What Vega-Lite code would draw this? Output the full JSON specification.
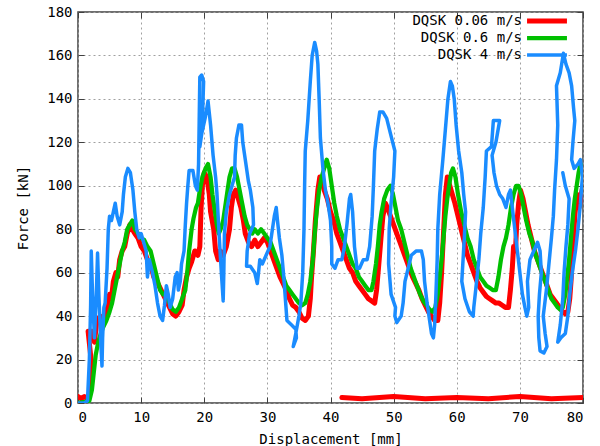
{
"$schema":"https://vega.github.io/schema/vega-lite/v6.json",
"width":505,"height":391,
"autosize":{"type":"none"},
"padding":{"left":78,"top":12,"right":17,"bottom":43},
"background":"white",
"config":{"view":{"stroke":"#404040","strokeWidth":1.5},"font":"DejaVu Sans Mono"},
"data":{"values":[
{"s":"a","x":0,"y":3},{"s":"a","x":0.5,"y":2},{"s":"a","x":1,"y":3},{"s":"a","x":1.5,"y":2},{"s":"a","x":1.8,"y":4},{"s":"a","x":2,"y":10},{"s":"a","x":2.2,"y":14},{"s":"a","x":2.0,"y":22},{"s":"a","x":1.6,"y":33},{"s":"a","x":2.3,"y":33},{"s":"a","x":2.6,"y":28},{"s":"a","x":3,"y":38},{"s":"a","x":3.5,"y":40},{"s":"a","x":4,"y":36},{"s":"a","x":4.5,"y":42},{"s":"a","x":5,"y":50},{"s":"a","x":5.3,"y":48},{"s":"a","x":5.6,"y":56},{"s":"a","x":6,"y":60},{"s":"a","x":6.3,"y":58},{"s":"a","x":6.6,"y":66},{"s":"a","x":7,"y":70},{"s":"a","x":7.4,"y":72},{"s":"a","x":7.8,"y":78},{"s":"a","x":8.2,"y":82},{"s":"a","x":8.6,"y":80},{"s":"a","x":9,"y":78},{"s":"a","x":9.5,"y":76},{"s":"a","x":10,"y":72},{"s":"a","x":10.5,"y":70},{"s":"a","x":11,"y":66},{"s":"a","x":11.5,"y":64},{"s":"a","x":12,"y":58},{"s":"a","x":12.5,"y":56},{"s":"a","x":13,"y":53},{"s":"a","x":13.5,"y":50},{"s":"a","x":14,"y":47},{"s":"a","x":14.5,"y":44},{"s":"a","x":15,"y":41},{"s":"a","x":15.5,"y":40},{"s":"a","x":16,"y":42},{"s":"a","x":16.5,"y":45},{"s":"a","x":16.8,"y":52},{"s":"a","x":17.2,"y":58},{"s":"a","x":17.6,"y":62},{"s":"a","x":18,"y":65},{"s":"a","x":18.5,"y":70},{"s":"a","x":19,"y":68},{"s":"a","x":19.3,"y":72},{"s":"a","x":19.5,"y":90},{"s":"a","x":19.7,"y":100},{"s":"a","x":20,"y":106},{"s":"a","x":20.4,"y":104},{"s":"a","x":20.8,"y":96},{"s":"a","x":21,"y":88},{"s":"a","x":21.5,"y":80},{"s":"a","x":21.8,"y":70},{"s":"a","x":22.2,"y":66},{"s":"a","x":22.5,"y":70},{"s":"a","x":23,"y":68},{"s":"a","x":23.5,"y":72},{"s":"a","x":24,"y":80},{"s":"a","x":24.3,"y":90},{"s":"a","x":24.6,"y":96},{"s":"a","x":25,"y":98},{"s":"a","x":25.4,"y":94},{"s":"a","x":25.8,"y":90},{"s":"a","x":26.2,"y":84},{"s":"a","x":26.5,"y":78},{"s":"a","x":27,"y":74},{"s":"a","x":27.5,"y":72},{"s":"a","x":28,"y":75},{"s":"a","x":28.5,"y":72},{"s":"a","x":29,"y":74},{"s":"a","x":29.5,"y":76},{"s":"a","x":30,"y":74},{"s":"a","x":30.5,"y":70},{"s":"a","x":31,"y":66},{"s":"a","x":31.5,"y":62},{"s":"a","x":32,"y":58},{"s":"a","x":32.5,"y":55},{"s":"a","x":33,"y":52},{"s":"a","x":33.5,"y":48},{"s":"a","x":34,"y":45},{"s":"a","x":34.5,"y":44},{"s":"a","x":35,"y":42},{"s":"a","x":35.5,"y":39},{"s":"a","x":36,"y":38},{"s":"a","x":36.5,"y":40},{"s":"a","x":36.8,"y":48},{"s":"a","x":37,"y":58},{"s":"a","x":37.3,"y":70},{"s":"a","x":37.6,"y":84},{"s":"a","x":38,"y":98},{"s":"a","x":38.3,"y":104},{"s":"a","x":38.7,"y":102},{"s":"a","x":39,"y":98},{"s":"a","x":39.5,"y":94},{"s":"a","x":40,"y":88},{"s":"a","x":40.5,"y":84},{"s":"a","x":41,"y":78},{"s":"a","x":41.5,"y":74},{"s":"a","x":42,"y":70},{"s":"a","x":42.5,"y":66},{"s":"a","x":43,"y":62},{"s":"a","x":43.5,"y":60},{"s":"a","x":44,"y":56},{"s":"a","x":44.5,"y":54},{"s":"a","x":45,"y":52},{"s":"a","x":45.5,"y":50},{"s":"a","x":46,"y":48},{"s":"a","x":46.5,"y":47},{"s":"a","x":47,"y":46},{"s":"a","x":47.3,"y":52},{"s":"a","x":47.6,"y":62},{"s":"a","x":48,"y":76},{"s":"a","x":48.3,"y":86},{"s":"a","x":48.7,"y":92},{"s":"a","x":49,"y":90},{"s":"a","x":49.5,"y":86},{"s":"a","x":50,"y":82},{"s":"a","x":50.5,"y":78},{"s":"a","x":51,"y":74},{"s":"a","x":51.5,"y":70},{"s":"a","x":52,"y":66},{"s":"a","x":52.5,"y":62},{"s":"a","x":53,"y":58},{"s":"a","x":53.5,"y":55},{"s":"a","x":54,"y":52},{"s":"a","x":54.5,"y":48},{"s":"a","x":55,"y":45},{"s":"a","x":55.5,"y":42},{"s":"a","x":56,"y":40},{"s":"a","x":56.5,"y":38},{"s":"a","x":57,"y":38},{"s":"a","x":57.3,"y":46},{"s":"a","x":57.6,"y":60},{"s":"a","x":57.9,"y":78},{"s":"a","x":58.2,"y":96},{"s":"a","x":58.5,"y":104},{"s":"a","x":58.9,"y":100},{"s":"a","x":59.3,"y":96},{"s":"a","x":59.7,"y":92},{"s":"a","x":60.2,"y":86},{"s":"a","x":60.7,"y":80},{"s":"a","x":61.2,"y":74},{"s":"a","x":61.7,"y":68},{"s":"a","x":62.2,"y":64},{"s":"a","x":62.7,"y":60},{"s":"a","x":63.2,"y":56},{"s":"a","x":63.7,"y":53},{"s":"a","x":64.2,"y":51},{"s":"a","x":64.7,"y":49},{"s":"a","x":65.2,"y":48},{"s":"a","x":65.7,"y":47},{"s":"a","x":66.2,"y":46},{"s":"a","x":66.7,"y":46},{"s":"a","x":67.2,"y":45},{"s":"a","x":67.7,"y":44},{"s":"a","x":68.2,"y":44},{"s":"a","x":68.5,"y":52},{"s":"a","x":68.8,"y":62},{"s":"a","x":69,"y":72},{"s":"a","x":69.3,"y":70},{"s":"a","x":69.5,"y":82},{"s":"a","x":69.8,"y":92},{"s":"a","x":70.1,"y":98},{"s":"a","x":70.5,"y":94},{"s":"a","x":70.9,"y":88},{"s":"a","x":71.3,"y":82},{"s":"a","x":71.8,"y":76},{"s":"a","x":72.3,"y":70},{"s":"a","x":72.8,"y":66},{"s":"a","x":73.3,"y":62},{"s":"a","x":73.8,"y":58},{"s":"a","x":74.3,"y":54},{"s":"a","x":74.8,"y":50},{"s":"a","x":75.3,"y":48},{"s":"a","x":75.8,"y":46},{"s":"a","x":76.3,"y":44},{"s":"a","x":76.8,"y":42},{"s":"a","x":77.2,"y":41},{"s":"a","x":77.6,"y":42},{"s":"a","x":77.9,"y":48},{"s":"a","x":78.1,"y":56},{"s":"a","x":78.3,"y":66},{"s":"a","x":78.5,"y":76},{"s":"a","x":78.7,"y":86},{"s":"a","x":78.9,"y":92},{"s":"a","x":79.1,"y":96},{"s":"a","x":79.4,"y":90},{"s":"a","x":79.7,"y":96},{"s":"a","x":80,"y":100},
{"s":"a","k":"r","x":80,"y":2.5},{"s":"a","k":"r","x":75,"y":2},{"s":"a","k":"r","x":70,"y":3},{"s":"a","k":"r","x":65,"y":2},{"s":"a","k":"r","x":60,"y":2.5},{"s":"a","k":"r","x":55,"y":2},{"s":"a","k":"r","x":50,"y":3},{"s":"a","k":"r","x":45,"y":2},{"s":"a","k":"r","x":41.8,"y":2.5},
{"s":"b","x":0,"y":0},{"s":"b","x":1,"y":0.5},{"s":"b","x":1.8,"y":1},{"s":"b","x":2.2,"y":6},{"s":"b","x":2.5,"y":14},{"s":"b","x":2.8,"y":22},{"s":"b","x":3.2,"y":28},{"s":"b","x":3.6,"y":32},{"s":"b","x":4,"y":35},{"s":"b","x":4.5,"y":38},{"s":"b","x":5,"y":42},{"s":"b","x":5.4,"y":46},{"s":"b","x":5.8,"y":52},{"s":"b","x":6.2,"y":58},{"s":"b","x":6.6,"y":64},{"s":"b","x":7,"y":70},{"s":"b","x":7.4,"y":74},{"s":"b","x":7.8,"y":80},{"s":"b","x":8.2,"y":82},{"s":"b","x":8.6,"y":84},{"s":"b","x":9,"y":80},{"s":"b","x":9.5,"y":78},{"s":"b","x":10,"y":76},{"s":"b","x":10.5,"y":75},{"s":"b","x":11,"y":72},{"s":"b","x":11.5,"y":70},{"s":"b","x":12,"y":64},{"s":"b","x":12.5,"y":58},{"s":"b","x":13,"y":52},{"s":"b","x":13.5,"y":50},{"s":"b","x":14,"y":50},{"s":"b","x":14.5,"y":46},{"s":"b","x":15,"y":43},{"s":"b","x":15.5,"y":42},{"s":"b","x":16,"y":44},{"s":"b","x":16.5,"y":48},{"s":"b","x":17,"y":52},{"s":"b","x":17.3,"y":60},{"s":"b","x":17.6,"y":70},{"s":"b","x":18,"y":80},{"s":"b","x":18.3,"y":85},{"s":"b","x":18.7,"y":90},{"s":"b","x":19,"y":92},{"s":"b","x":19.3,"y":98},{"s":"b","x":19.7,"y":104},{"s":"b","x":20.2,"y":108},{"s":"b","x":20.6,"y":110},{"s":"b","x":21,"y":104},{"s":"b","x":21.3,"y":96},{"s":"b","x":21.7,"y":88},{"s":"b","x":22,"y":82},{"s":"b","x":22.3,"y":78},{"s":"b","x":22.6,"y":80},{"s":"b","x":23,"y":84},{"s":"b","x":23.3,"y":90},{"s":"b","x":23.7,"y":98},{"s":"b","x":24,"y":104},{"s":"b","x":24.4,"y":108},{"s":"b","x":24.8,"y":108},{"s":"b","x":25.2,"y":104},{"s":"b","x":25.6,"y":98},{"s":"b","x":26,"y":92},{"s":"b","x":26.4,"y":86},{"s":"b","x":26.8,"y":82},{"s":"b","x":27.2,"y":80},{"s":"b","x":27.6,"y":78},{"s":"b","x":28,"y":80},{"s":"b","x":28.5,"y":78},{"s":"b","x":29,"y":80},{"s":"b","x":29.5,"y":78},{"s":"b","x":30,"y":76},{"s":"b","x":30.5,"y":74},{"s":"b","x":31,"y":70},{"s":"b","x":31.5,"y":66},{"s":"b","x":32,"y":62},{"s":"b","x":32.5,"y":58},{"s":"b","x":33,"y":54},{"s":"b","x":33.5,"y":52},{"s":"b","x":34,"y":50},{"s":"b","x":34.5,"y":48},{"s":"b","x":35,"y":46},{"s":"b","x":35.5,"y":45},{"s":"b","x":36,"y":46},{"s":"b","x":36.4,"y":50},{"s":"b","x":36.8,"y":56},{"s":"b","x":37.2,"y":66},{"s":"b","x":37.5,"y":78},{"s":"b","x":37.8,"y":88},{"s":"b","x":38.2,"y":98},{"s":"b","x":38.6,"y":104},{"s":"b","x":39,"y":108},{"s":"b","x":39.4,"y":112},{"s":"b","x":39.8,"y":108},{"s":"b","x":40.2,"y":100},{"s":"b","x":40.6,"y":92},{"s":"b","x":41,"y":86},{"s":"b","x":41.5,"y":80},{"s":"b","x":42,"y":76},{"s":"b","x":42.5,"y":72},{"s":"b","x":43,"y":68},{"s":"b","x":43.5,"y":64},{"s":"b","x":44,"y":62},{"s":"b","x":44.5,"y":58},{"s":"b","x":45,"y":56},{"s":"b","x":45.5,"y":54},{"s":"b","x":46,"y":52},{"s":"b","x":46.5,"y":52},{"s":"b","x":46.8,"y":56},{"s":"b","x":47.2,"y":64},{"s":"b","x":47.5,"y":72},{"s":"b","x":47.8,"y":82},{"s":"b","x":48.1,"y":88},{"s":"b","x":48.5,"y":94},{"s":"b","x":49,"y":98},{"s":"b","x":49.5,"y":100},{"s":"b","x":49.9,"y":96},{"s":"b","x":50.3,"y":90},{"s":"b","x":50.7,"y":84},{"s":"b","x":51.2,"y":80},{"s":"b","x":51.7,"y":74},{"s":"b","x":52.2,"y":68},{"s":"b","x":52.7,"y":62},{"s":"b","x":53.2,"y":58},{"s":"b","x":53.7,"y":54},{"s":"b","x":54.2,"y":50},{"s":"b","x":54.7,"y":47},{"s":"b","x":55.2,"y":45},{"s":"b","x":55.7,"y":43},{"s":"b","x":56.2,"y":42},{"s":"b","x":56.6,"y":44},{"s":"b","x":57,"y":50},{"s":"b","x":57.3,"y":58},{"s":"b","x":57.6,"y":66},{"s":"b","x":57.9,"y":76},{"s":"b","x":58.2,"y":86},{"s":"b","x":58.5,"y":94},{"s":"b","x":58.8,"y":100},{"s":"b","x":59.1,"y":106},{"s":"b","x":59.4,"y":108},{"s":"b","x":59.8,"y":104},{"s":"b","x":60.2,"y":96},{"s":"b","x":60.7,"y":88},{"s":"b","x":61.2,"y":82},{"s":"b","x":61.7,"y":76},{"s":"b","x":62.2,"y":72},{"s":"b","x":62.7,"y":66},{"s":"b","x":63.2,"y":62},{"s":"b","x":63.7,"y":58},{"s":"b","x":64.2,"y":56},{"s":"b","x":64.7,"y":54},{"s":"b","x":65.2,"y":53},{"s":"b","x":65.7,"y":52},{"s":"b","x":66.2,"y":52},{"s":"b","x":66.6,"y":58},{"s":"b","x":67,"y":66},{"s":"b","x":67.4,"y":72},{"s":"b","x":67.8,"y":76},{"s":"b","x":68.2,"y":82},{"s":"b","x":68.6,"y":90},{"s":"b","x":69,"y":96},{"s":"b","x":69.4,"y":100},{"s":"b","x":69.8,"y":100},{"s":"b","x":70.2,"y":96},{"s":"b","x":70.6,"y":90},{"s":"b","x":71,"y":84},{"s":"b","x":71.5,"y":78},{"s":"b","x":72,"y":74},{"s":"b","x":72.5,"y":68},{"s":"b","x":73,"y":64},{"s":"b","x":73.5,"y":60},{"s":"b","x":74,"y":56},{"s":"b","x":74.5,"y":52},{"s":"b","x":75,"y":48},{"s":"b","x":75.5,"y":46},{"s":"b","x":76,"y":44},{"s":"b","x":76.4,"y":43},{"s":"b","x":76.8,"y":44},{"s":"b","x":77.2,"y":50},{"s":"b","x":77.5,"y":58},{"s":"b","x":77.8,"y":66},{"s":"b","x":78.1,"y":76},{"s":"b","x":78.4,"y":86},{"s":"b","x":78.7,"y":94},{"s":"b","x":79,"y":100},{"s":"b","x":79.3,"y":106},{"s":"b","x":79.6,"y":110},{"s":"b","x":80,"y":108},
{"s":"c","x":0,"y":0},{"s":"c","x":1,"y":0},{"s":"c","x":1.5,"y":1},{"s":"c","x":1.8,"y":20},{"s":"c","x":2,"y":45},{"s":"c","x":2.1,"y":70},{"s":"c","x":2.3,"y":50},{"s":"c","x":2.6,"y":30},{"s":"c","x":2.9,"y":50},{"s":"c","x":3.1,"y":69},{"s":"c","x":3.3,"y":50},{"s":"c","x":3.6,"y":28},{"s":"c","x":3.8,"y":17},{"s":"c","x":3.9,"y":30},{"s":"c","x":4.1,"y":44},{"s":"c","x":4.3,"y":46},{"s":"c","x":4.6,"y":62},{"s":"c","x":4.8,"y":80},{"s":"c","x":5,"y":86},{"s":"c","x":5.3,"y":84},{"s":"c","x":5.6,"y":88},{"s":"c","x":5.9,"y":92},{"s":"c","x":6.2,"y":86},{"s":"c","x":6.6,"y":82},{"s":"c","x":7,"y":88},{"s":"c","x":7.2,"y":96},{"s":"c","x":7.5,"y":104},{"s":"c","x":7.9,"y":108},{"s":"c","x":8.3,"y":106},{"s":"c","x":8.7,"y":98},{"s":"c","x":9,"y":88},{"s":"c","x":9.3,"y":80},{"s":"c","x":9.7,"y":76},{"s":"c","x":10,"y":78},{"s":"c","x":10.4,"y":74},{"s":"c","x":10.8,"y":70},{"s":"c","x":11,"y":58},{"s":"c","x":11.3,"y":66},{"s":"c","x":11.8,"y":60},{"s":"c","x":12.2,"y":54},{"s":"c","x":12.6,"y":46},{"s":"c","x":13,"y":40},{"s":"c","x":13.4,"y":38},{"s":"c","x":13.7,"y":45},{"s":"c","x":14,"y":54},{"s":"c","x":14.3,"y":50},{"s":"c","x":14.6,"y":44},{"s":"c","x":15,"y":48},{"s":"c","x":15.4,"y":58},{"s":"c","x":15.7,"y":60},{"s":"c","x":15.9,"y":52},{"s":"c","x":16.2,"y":56},{"s":"c","x":16.4,"y":64},{"s":"c","x":16.8,"y":70},{"s":"c","x":17,"y":82},{"s":"c","x":17.2,"y":92},{"s":"c","x":17.4,"y":100},{"s":"c","x":17.6,"y":107},{"s":"c","x":18.2,"y":107},{"s":"c","x":18.6,"y":100},{"s":"c","x":18.9,"y":98},{"s":"c","x":19.1,"y":110},{"s":"c","x":19.2,"y":130},{"s":"c","x":19.3,"y":150},{"s":"c","x":19.6,"y":151},{"s":"c","x":19.9,"y":148},{"s":"c","x":19.7,"y":130},{"s":"c","x":19.3,"y":118},{"s":"c","x":19.6,"y":124},{"s":"c","x":20.2,"y":132},{"s":"c","x":20.6,"y":139},{"s":"c","x":21,"y":128},{"s":"c","x":21.4,"y":114},{"s":"c","x":21.8,"y":104},{"s":"c","x":22,"y":97},{"s":"c","x":22.2,"y":86},{"s":"c","x":22.5,"y":70},{"s":"c","x":22.8,"y":56},{"s":"c","x":23,"y":47},{"s":"c","x":23.1,"y":60},{"s":"c","x":23.2,"y":78},{"s":"c","x":23.5,"y":88},{"s":"c","x":24,"y":96},{"s":"c","x":24.4,"y":100},{"s":"c","x":24.8,"y":104},{"s":"c","x":24.9,"y":114},{"s":"c","x":25.1,"y":122},{"s":"c","x":25.5,"y":128},{"s":"c","x":25.9,"y":128},{"s":"c","x":26.1,"y":120},{"s":"c","x":26.6,"y":110},{"s":"c","x":27,"y":102},{"s":"c","x":27.3,"y":98},{"s":"c","x":27.7,"y":90},{"s":"c","x":27.8,"y":82},{"s":"c","x":27.2,"y":78},{"s":"c","x":26.8,"y":70},{"s":"c","x":26.7,"y":63},{"s":"c","x":27.3,"y":63},{"s":"c","x":28,"y":60},{"s":"c","x":28.4,"y":55},{"s":"c","x":28.6,"y":60},{"s":"c","x":28.8,"y":66},{"s":"c","x":29.2,"y":64},{"s":"c","x":29.8,"y":68},{"s":"c","x":30.4,"y":72},{"s":"c","x":30.8,"y":80},{"s":"c","x":31.1,"y":86},{"s":"c","x":31.4,"y":90},{"s":"c","x":31.6,"y":84},{"s":"c","x":31.9,"y":76},{"s":"c","x":32.3,"y":68},{"s":"c","x":32.6,"y":58},{"s":"c","x":32.9,"y":46},{"s":"c","x":33.1,"y":38},{"s":"c","x":33.8,"y":36},{"s":"c","x":34.5,"y":34},{"s":"c","x":34.6,"y":30},{"s":"c","x":34.1,"y":26},{"s":"c","x":34.5,"y":32},{"s":"c","x":35,"y":40},{"s":"c","x":35.3,"y":46},{"s":"c","x":35.6,"y":60},{"s":"c","x":35.8,"y":80},{"s":"c","x":35.9,"y":100},{"s":"c","x":36,"y":116},{"s":"c","x":36.4,"y":130},{"s":"c","x":36.8,"y":148},{"s":"c","x":37.1,"y":160},{"s":"c","x":37.5,"y":166},{"s":"c","x":37.8,"y":162},{"s":"c","x":38,"y":156},{"s":"c","x":38.2,"y":140},{"s":"c","x":38.4,"y":122},{"s":"c","x":38.8,"y":108},{"s":"c","x":39.2,"y":98},{"s":"c","x":39.6,"y":92},{"s":"c","x":40,"y":84},{"s":"c","x":40.2,"y":72},{"s":"c","x":40.2,"y":64},{"s":"c","x":40.7,"y":62},{"s":"c","x":41.2,"y":66},{"s":"c","x":41.8,"y":66},{"s":"c","x":42.2,"y":72},{"s":"c","x":42.6,"y":82},{"s":"c","x":43,"y":94},{"s":"c","x":43.2,"y":96},{"s":"c","x":43.5,"y":88},{"s":"c","x":43.8,"y":72},{"s":"c","x":44.2,"y":62},{"s":"c","x":44.6,"y":62},{"s":"c","x":45.2,"y":66},{"s":"c","x":45.8,"y":66},{"s":"c","x":46.2,"y":72},{"s":"c","x":46.6,"y":86},{"s":"c","x":46.8,"y":100},{"s":"c","x":47,"y":116},{"s":"c","x":47.4,"y":126},{"s":"c","x":47.8,"y":134},{"s":"c","x":48.3,"y":134},{"s":"c","x":48.9,"y":131},{"s":"c","x":49.5,"y":124},{"s":"c","x":50.2,"y":116},{"s":"c","x":50,"y":104},{"s":"c","x":49.6,"y":92},{"s":"c","x":49.3,"y":80},{"s":"c","x":49.2,"y":64},{"s":"c","x":49.6,"y":50},{"s":"c","x":50.3,"y":44},{"s":"c","x":50.2,"y":40},{"s":"c","x":50.5,"y":37},{"s":"c","x":51.2,"y":40},{"s":"c","x":51.5,"y":46},{"s":"c","x":51.8,"y":56},{"s":"c","x":52.3,"y":62},{"s":"c","x":52.8,"y":68},{"s":"c","x":53.6,"y":70},{"s":"c","x":54.4,"y":70},{"s":"c","x":54.7,"y":66},{"s":"c","x":54.9,"y":56},{"s":"c","x":55.3,"y":46},{"s":"c","x":55.7,"y":38},{"s":"c","x":56,"y":32},{"s":"c","x":56.3,"y":30},{"s":"c","x":56.5,"y":36},{"s":"c","x":56.7,"y":50},{"s":"c","x":56.9,"y":66},{"s":"c","x":57,"y":80},{"s":"c","x":57.3,"y":96},{"s":"c","x":57.8,"y":112},{"s":"c","x":58.2,"y":126},{"s":"c","x":58.6,"y":140},{"s":"c","x":59,"y":148},{"s":"c","x":59.3,"y":146},{"s":"c","x":59.6,"y":140},{"s":"c","x":59.9,"y":128},{"s":"c","x":60.3,"y":116},{"s":"c","x":60.8,"y":106},{"s":"c","x":61.1,"y":96},{"s":"c","x":61.4,"y":88},{"s":"c","x":61.2,"y":76},{"s":"c","x":61,"y":66},{"s":"c","x":60.8,"y":56},{"s":"c","x":61.3,"y":48},{"s":"c","x":62,"y":42},{"s":"c","x":62.6,"y":40},{"s":"c","x":62.7,"y":44},{"s":"c","x":63,"y":52},{"s":"c","x":63.5,"y":66},{"s":"c","x":63.8,"y":78},{"s":"c","x":64.2,"y":90},{"s":"c","x":64.5,"y":104},{"s":"c","x":64.7,"y":116},{"s":"c","x":65.5,"y":118},{"s":"c","x":65.8,"y":130},{"s":"c","x":66.8,"y":130},{"s":"c","x":66.2,"y":120},{"s":"c","x":65.6,"y":114},{"s":"c","x":65.9,"y":106},{"s":"c","x":66.3,"y":100},{"s":"c","x":66.8,"y":96},{"s":"c","x":67.3,"y":94},{"s":"c","x":67.8,"y":90},{"s":"c","x":68.2,"y":96},{"s":"c","x":68.5,"y":98},{"s":"c","x":68.8,"y":90},{"s":"c","x":69.2,"y":80},{"s":"c","x":69.6,"y":70},{"s":"c","x":70,"y":60},{"s":"c","x":70.4,"y":50},{"s":"c","x":70.8,"y":44},{"s":"c","x":71.1,"y":40},{"s":"c","x":71.4,"y":44},{"s":"c","x":71.2,"y":56},{"s":"c","x":71.6,"y":66},{"s":"c","x":72.2,"y":70},{"s":"c","x":72.8,"y":74},{"s":"c","x":73.2,"y":70},{"s":"c","x":73.4,"y":60},{"s":"c","x":73.1,"y":50},{"s":"c","x":72.9,"y":40},{"s":"c","x":73,"y":30},{"s":"c","x":73.2,"y":24},{"s":"c","x":73.8,"y":23},{"s":"c","x":74.3,"y":26},{"s":"c","x":74,"y":32},{"s":"c","x":73.7,"y":40},{"s":"c","x":74.2,"y":52},{"s":"c","x":74.6,"y":64},{"s":"c","x":75,"y":76},{"s":"c","x":75.3,"y":86},{"s":"c","x":75.5,"y":98},{"s":"c","x":75.8,"y":112},{"s":"c","x":76,"y":128},{"s":"c","x":75.8,"y":146},{"s":"c","x":76.4,"y":152},{"s":"c","x":76.9,"y":161},{"s":"c","x":77.3,"y":156},{"s":"c","x":77.8,"y":152},{"s":"c","x":78.2,"y":146},{"s":"c","x":78.5,"y":136},{"s":"c","x":78.7,"y":130},{"s":"c","x":78.4,"y":120},{"s":"c","x":78.2,"y":112},{"s":"c","x":78.6,"y":108},{"s":"c","x":79.2,"y":110},{"s":"c","x":79.6,"y":112},{"s":"c","x":79.9,"y":104},{"s":"c","x":79.6,"y":92},{"s":"c","x":79.2,"y":80},{"s":"c","x":78.8,"y":70},{"s":"c","x":78.3,"y":60},{"s":"c","x":77.9,"y":50},{"s":"c","x":77.6,"y":40},{"s":"c","x":77.2,"y":32},{"s":"c","x":76.5,"y":30},{"s":"c","x":76,"y":28},{"s":"c","x":76.4,"y":36},{"s":"c","x":76.8,"y":48},{"s":"c","x":77,"y":60},{"s":"c","x":77.3,"y":72},{"s":"c","x":77.6,"y":82},{"s":"c","x":77.8,"y":94},{"s":"c","x":77.2,"y":100},{"s":"c","x":76.8,"y":106}
]},
"layer":[
{"mark":{"type":"line","clip":true,"strokeJoin":"round","strokeCap":"round"},
 "encoding":{
  "x":{"field":"x","type":"quantitative","scale":{"domain":[0,80],"nice":false,"zero":false},
       "axis":{"orient":"bottom","values":[0,10,20,30,40,50,60,70,80],"grid":true,"gridDash":[2,3],"gridColor":"#a0a0a0","gridOpacity":1,"domain":false,"tickSize":-6,"tickColor":"#404040","labelFontSize":14,"labelColor":"#000","labelPadding":13,"title":"Displacement [mm]","titleFontSize":14,"titleFontWeight":"normal","titleColor":"#000","titlePadding":8}},
  "y":{"field":"y","type":"quantitative","scale":{"domain":[0,180],"nice":false},
       "axis":{"orient":"left","values":[0,20,40,60,80,100,120,140,160,180],"grid":true,"gridDash":[2,3],"gridColor":"#a0a0a0","gridOpacity":1,"domain":false,"tickSize":-6,"tickColor":"#404040","labelFontSize":14,"labelColor":"#000","labelPadding":12,"title":"Force [kN]","titleFontSize":14,"titleFontWeight":"normal","titleColor":"#000","titlePadding":16}},
  "color":{"field":"s","type":"nominal","scale":{"domain":["a","b","c"],"range":["#ff0000","#00c000","#1a8cff"]},
       "legend":{"orient":"none","legendX":462,"legendY":2,"title":null,"symbolType":"M-5.7,0H5.7","symbolSize":49,"symbolStrokeWidth":3,"labelAlign":"right","labelOffset":-32,"labelFontSize":14,"labelLineHeight":10,"labelColor":"#000","padding":0,"rowPadding":-4,"gridAlign":"all",
        "labelExpr":"datum.value=='a'?'DQSK 0.06 m/s':datum.value=='b'?'DQSK 0.6 m/s':'DQSK 4 m/s'"}},
  "strokeWidth":{"field":"s","type":"nominal","scale":{"domain":["a","b","c"],"range":[5,3.5,3]},"legend":null},
  "detail":{"field":"k","type":"nominal"},
  "order":{"value":null}
 }},
{"mark":{"type":"point","opacity":0},
 "encoding":{
  "x":{"field":"x","type":"quantitative","scale":{"domain":[0,80],"nice":false,"zero":false},
       "axis":{"orient":"top","values":[0,10,20,30,40,50,60,70,80],"labels":false,"grid":false,"domain":false,"tickSize":-6,"tickColor":"#404040","title":null}},
  "y":{"field":"y","type":"quantitative","scale":{"domain":[0,180],"nice":false},
       "axis":{"orient":"right","values":[0,20,40,60,80,100,120,140,160,180],"labels":false,"grid":false,"domain":false,"tickSize":-6,"tickColor":"#404040","title":null}}
 }}
],
"resolve":{"axis":{"x":"independent","y":"independent"}}
}
